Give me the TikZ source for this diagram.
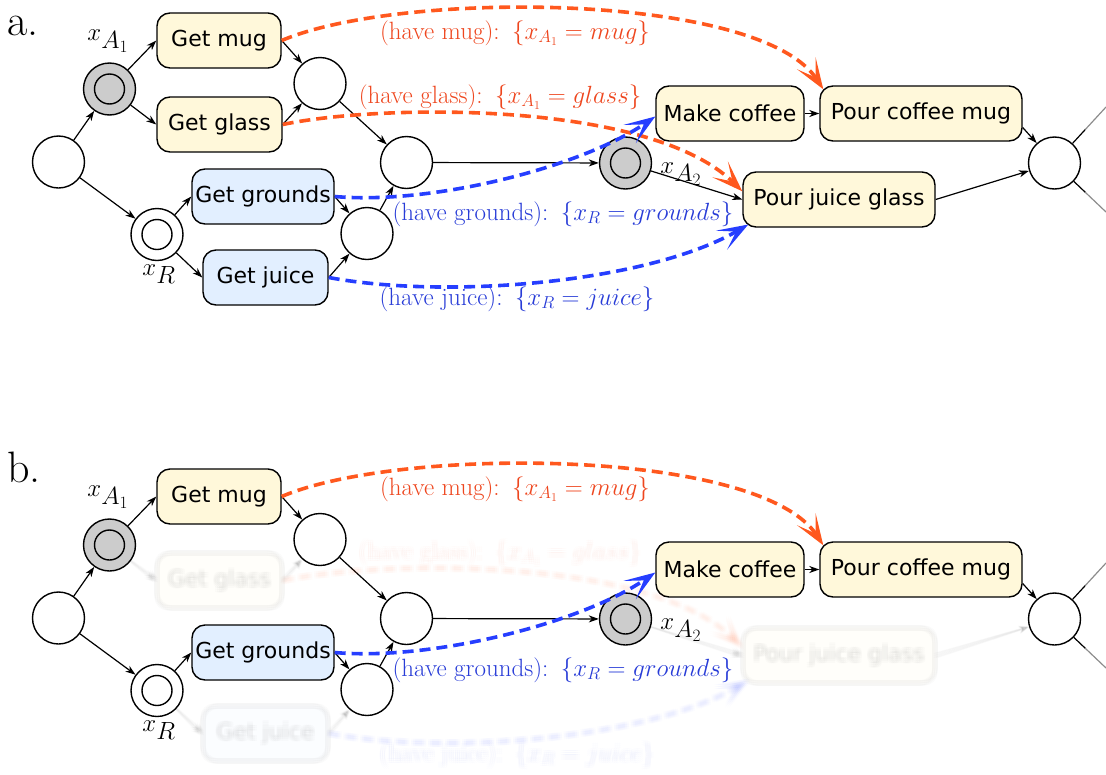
\documentclass[tikz,border=0pt]{standalone}
\usepackage{fontspec}
\newfontfamily\boxfont{DejaVu Sans}
\usetikzlibrary{arrows.meta,calc}
\definecolor{boxyellow}{RGB}{255,248,218}
\definecolor{boxblue}{RGB}{226,239,255}
\definecolor{stategray}{RGB}{204,204,204}
\definecolor{haveorange}{RGB}{255,88,30}
\definecolor{haveblue}{RGB}{38,62,255}
\definecolor{orangetext}{RGB}{238,70,30}
\definecolor{bluetext}{RGB}{40,60,215}

\tikzset{
  act/.style={draw, line width=1.4pt, rounded corners=13pt, minimum height=55pt,
    inner xsep=2pt, inner ysep=0pt, font=\boxfont\fontsize{22}{26}\selectfont},
  yact/.style={act, fill=boxyellow},
  bact/.style={act, fill=boxblue},
  state/.style={circle, draw, line width=1.4pt, minimum size=52pt, inner sep=0pt, fill=white},
  inner/.style={circle, draw, line width=1.4pt, minimum size=30pt, inner sep=0pt},
  flow/.style={line width=1.2pt, -{Stealth[length=10pt,width=7pt,inset=3pt]}},
  have/.style={line width=3.6pt, dash pattern=on 11pt off 6pt,
    -{Stealth[length=31pt,width=22pt,inset=17pt]}},
  havelabel/.style={font=\fontsize{25}{28}\selectfont, inner sep=0pt},
  varlabel/.style={font=\fontsize{33}{36}\selectfont, inner sep=0pt},
  panelletter/.style={font=\fontsize{44}{48}\selectfont, inner sep=0pt, anchor=base west},
  keep/.style={},
  blurred/.style={opacity=0.016},
}

% states, actions and links shared by both panels; #1 name prefix, #2 vertical offset
\newcommand{\planpanel}[2]{%
\begin{scope}[shift={(0,#2)}]
  \node[state] (#1start) at (58.5,162) {};
  \node[state, fill=stategray] (#1xA) at (109.5,89) {};
  \node[inner, fill=stategray] (#1xAi) at (109.5,89) {};
  \node[state] (#1xR) at (157,234.5) {};
  \node[inner, fill=white] (#1xRi) at (157,234.5) {};
  \node[state] (#1ca) at (320,83.5) {};
  \node[state] (#1cb) at (367,233.5) {};
  \node[state] (#1merge) at (406.5,162.5) {};
  \node[state, fill=stategray] (#1xB) at (625.5,163) {};
  \node[inner, fill=stategray] (#1xBi) at (625.5,163) {};
  \node[state] (#1fin) at (1054.5,163) {};
  \coordinate (#1outA) at (1106,107);
  \coordinate (#1outB) at (1106,212);
  \node[yact, minimum width=124pt] (#1mug) at (219,40.5) {Get mug};
  \node[bact, minimum width=142pt] (#1grounds) at (263,196.5) {Get grounds};
  \node[yact, minimum width=148pt] (#1mc) at (730,113.5) {Make coffee};
  \node[yact, minimum width=202pt] (#1pcm) at (921,113.5) {Pour coffee mug};
  \node[varlabel] (#1lA) at (108,41) {$x_{A_1}$};
  \node[varlabel] (#1lR) at (159,274) {$x_R$};
  \node[varlabel] (#1lB) at (681,174) {$x_{A_2}$};
  \draw[flow] (#1start) -- (#1xA);
  \draw[flow] (#1start) -- (#1xR);
  \draw[flow] (#1xA) -- (#1mug.west);
  \draw[flow] (#1mug.east) -- (#1ca);
  \draw[flow] (#1ca) -- (#1merge);
  \draw[flow] (#1xR) -- (#1grounds.west);
  \draw[flow] (#1grounds.east) -- (#1cb);
  \draw[flow] (#1cb) -- (#1merge);
  \draw[flow] (#1merge) -- (#1xB);
  \draw[flow] (#1mc.east) -- (#1pcm.west);
  \draw[flow] ([yshift=-14pt]#1pcm.east) -- (#1fin);
  \draw[line width=1.2pt] (#1fin) -- ($(#1fin)!0.6!(#1outA)$);
  \draw[line width=1.2pt, black!45] ($(#1fin)!0.6!(#1outA)$) -- (#1outA);
  \draw[line width=1.2pt] (#1fin) -- ($(#1fin)!0.6!(#1outB)$);
  \draw[line width=1.2pt, black!45] ($(#1fin)!0.6!(#1outB)$) -- (#1outB);
  \node[havelabel, text=orangetext] (#1hmug) at (515,33)
    {(have mug):\hspace{0.5em}$\{x_{A_1}=mug\}$};
  \node[havelabel, text=bluetext] (#1hgrounds) at (563,214)
    {(have grounds):\hspace{0.5em}$\{x_R=grounds\}$};
\end{scope}}

% glass / juice branch; #1 prefix, #2 vertical offset, #3 x offset, #4 style
\newcommand{\juicebranch}[4]{%
\begin{scope}[shift={(#3,#2)}, #4]
  \node[yact, minimum width=125pt] (#1glass) at (219.5,124.5) {Get glass};
  \node[bact, minimum width=125pt] (#1juice) at (265.5,277.5) {Get juice};
  \node[yact, minimum width=192pt] (#1pjg) at (839,199.5) {Pour juice glass};
  \draw[flow] (#1xA) -- (#1glass.west);
  \draw[flow] (#1glass.east) -- (#1ca);
  \draw[flow] (#1xR) -- (#1juice.west);
  \draw[flow] (#1juice.east) -- (#1cb);
  \draw[flow] (#1xB) -- (#1pjg.west);
  \draw[flow] (#1pjg.east) -- (#1fin);
  \node[havelabel, text=orangetext] (#1hglass) at (500,97)
    {(have glass):\hspace{0.5em}$\{x_{A_1}=glass\}$};
  \node[havelabel, text=bluetext] (#1hjuice) at (517,299)
    {(have juice):\hspace{0.5em}$\{x_R=juice\}$};
  \draw[have, haveorange] (#1glass.east) .. controls (380,104) and (650,100) .. ([yshift=-20pt]#1pjg.north west);
  \draw[have, haveblue] (#1juice.east) .. controls (450,300) and (650,282) .. ([xshift=6pt,yshift=-25pt]#1pjg.west);
\end{scope}}

% effect arrows of the coffee branch
\newcommand{\coffeeeffects}[2]{%
\begin{scope}[shift={(0,#2)}]
  \draw[have, haveorange] (#1mug.east) .. controls (400,-10) and (760,-8) .. ([xshift=4pt,yshift=-4pt]#1pcm.north west);
  \draw[have, haveblue] (#1grounds.east) .. controls (430,205) and (580,168) .. ([yshift=-3pt]#1mc.west);
\end{scope}}

\begin{document}
\begin{tikzpicture}[x=1pt,y=-1pt]
  \useasboundingbox (0,0) rectangle (1106,774);
  % panel a: every branch
  \planpanel{a}{0}
  \juicebranch{a}{0}{0}{keep}
  \coffeeeffects{a}{0}
  % panel b: the glass/juice branch is drawn soft and faint
  \planpanel{b}{456}
  \foreach \dx/\dy in {-2/-2,0/-2,2/-2,-2/0,0/0,2/0,-2/2,0/2,2/2}{
    \juicebranch{b}{456+\dy}{\dx}{blurred}
  }
  \coffeeeffects{b}{456}
  \node[panelletter] (lettera) at (7,35) {a.};
  \node[panelletter] (letterb) at (7,482) {b.};
\end{tikzpicture}
\end{document}
